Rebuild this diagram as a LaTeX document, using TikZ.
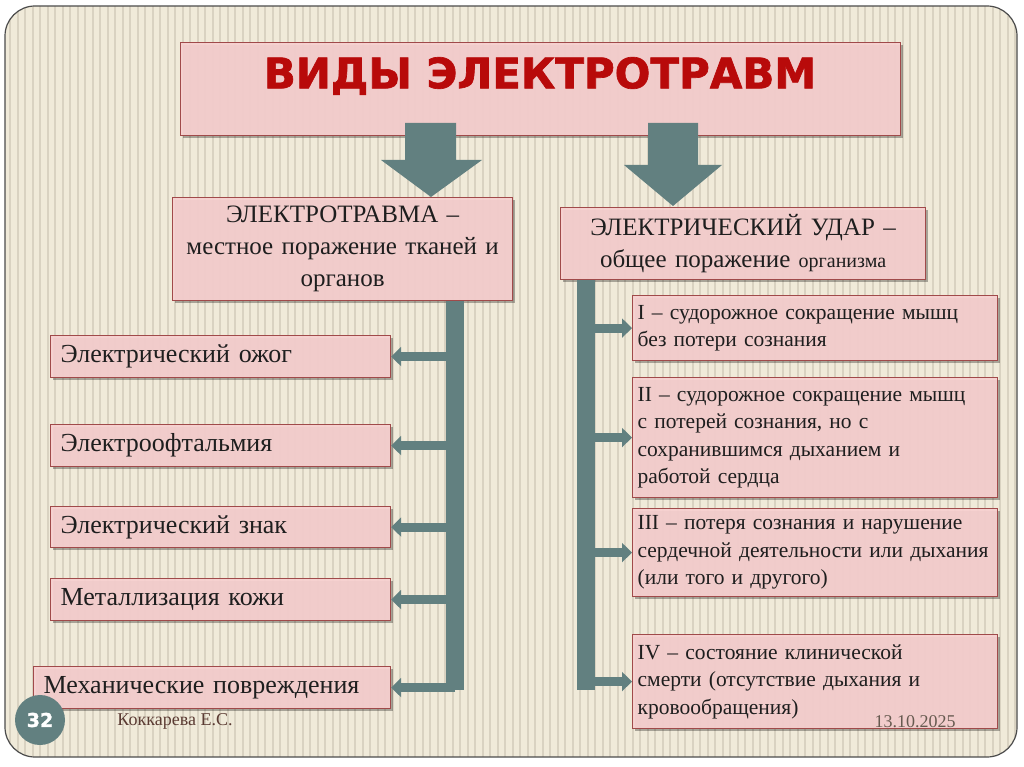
\documentclass[tikz,border=0pt]{standalone}
\usepackage{fontspec}
\setmainfont{Liberation Serif}
\newfontfamily\headfont{DejaVu Sans}[BoldFeatures={FakeBold=1.6}]
\usetikzlibrary{arrows.meta,shadows}

\definecolor{paper}{HTML}{F0EAD9}
\definecolor{stripe}{HTML}{D9D2C1}
\definecolor{pinkfill}{HTML}{F7D0D0}
\definecolor{pinkline}{HTML}{A04A4A}
\definecolor{slate}{HTML}{628080}
\definecolor{titlered}{HTML}{B80A0A}
\definecolor{inkblack}{HTML}{1E1E1E}
\definecolor{authorbrown}{HTML}{5B3B33}
\definecolor{dategray}{HTML}{675A50}

\tikzset{
  card/.style={draw=pinkline, line width=1.2pt, fill=pinkfill, fill opacity=0.93,
    text opacity=1, text=inkblack, inner xsep=10pt, inner ysep=0pt, anchor=north west,
    drop shadow={shadow xshift=2.5pt, shadow yshift=-2.5pt, opacity=0.3, fill=black}},
  leftcard/.style={card, font=\fontsize{26}{30}\selectfont, align=left},
  rightcard/.style={card, inner xsep=5pt, font=\fontsize{21.5}{27.5}\selectfont, align=left},
  headcard/.style={card, font=\fontsize{25}{32}\selectfont, align=center},
  bar/.style={slate, line width=18pt},
  branch/.style={slate, line width=9pt, -{Triangle[width=19pt,length=10pt]}},
}

\begin{document}
\begin{tikzpicture}[x=1pt,y=-1pt]
	\useasboundingbox (0,0) rectangle (1024,767);
	% slide background
	\fill[white] (0,0) rectangle (1024,767);
	\fill[paper,rounded corners=30pt] (5,6) rectangle (1017,757);
	\begin{scope}
		\clip[rounded corners=30pt] (5,6) rectangle (1017,757);
		\foreach \x in {9,16.5,...,1015}
			\fill[stripe] (\x,6) rectangle (\x+2,757);
	\end{scope}
	\draw[black!70,line width=1.2pt,rounded corners=30pt] (5,6) rectangle (1017,757);

	% title
	\node[card, minimum width=720pt, minimum height=93pt] (title) at (180,42) {};
	\node[font=\headfont\bfseries\fontsize{42}{42}\selectfont, text=titlered] (titletext) at (540,76) {ВИДЫ ЭЛЕКТРОТРАВМ};

	% two main branches
	\node[headcard, text width=320pt, minimum height=103pt] (ltrauma) at (172,197)
		{ЭЛЕКТРОТРАВМА –\\местное поражение тканей и\\органов};
	\node[headcard, text width=345pt, minimum height=72pt] (rshock) at (560,207)
		{ЭЛЕКТРИЧЕСКИЙ УДАР –\\общее поражение {\fontsize{20}{32}\selectfont организма}};

	\fill[slate] (405,123) -- (456,123) -- (456,160) -- (482,160) -- (431,197) -- (381,160) -- (405,160) -- cycle;
	\fill[slate] (648,123) -- (698,123) -- (698,165) -- (722,165) -- (673,206) -- (624,165) -- (648,165) -- cycle;

	% local injuries
	\node[leftcard, text width=320pt, minimum height=42pt] (burn) at (50,335) {Электрический ожог};
	\node[leftcard, text width=320pt, minimum height=42pt] (ophth) at (50,424) {Электроофтальмия};
	\node[leftcard, text width=320pt, minimum height=41pt] (mark) at (50,506) {Электрический знак};
	\node[leftcard, text width=320pt, minimum height=42pt] (metal) at (50,578) {Металлизация кожи};
	\node[leftcard, text width=337pt, minimum height=42pt] (mech) at (33,666) {Механические повреждения};

	% shock stages
	\node[rightcard, text width=355pt, minimum height=65pt] (st1) at (632,295)
		{I – судорожное сокращение мышц\\без потери сознания};
	\node[rightcard, text width=355pt, minimum height=120pt] (st2) at (632,377)
		{II – судорожное сокращение мышц\\с потерей сознания, но с\\сохранившимся дыханием и\\работой сердца};
	\node[rightcard, text width=355pt, minimum height=88pt] (st3) at (632,508)
		{III – потеря сознания и нарушение\\сердечной деятельности или дыхания\\(или того и другого)};
	\node[rightcard, text width=355pt, minimum height=94pt] (st4) at (632,634)
		{IV – состояние клинической\\смерти (отсутствие дыхания и\\кровообращения)};

	% connectors
	\coordinate (lbar) at (455,690);
	\coordinate (rbar) at (585.5,690);
	\draw[bar] (ltrauma.south -| lbar) -- (lbar);
	\draw[bar] (rshock.south -| rbar) -- (rbar);
	\foreach \b in {burn,ophth,mark,metal,mech}
		\draw[branch] (\b.east -| lbar) -- (\b.east);
	\foreach \b in {st1,st2,st3,st4}
		\draw[branch] (\b.west -| rbar) -- (\b.west);

	% footer
	\node[circle, fill=slate, minimum size=50pt, text=white, font=\headfont\bfseries\fontsize{19}{19}\selectfont] (pagenum) at (40,720) {32};
	\node[text=authorbrown, font=\fontsize{18}{18}\selectfont] (author) at (175,721) {Коккарева Е.С.};
	\node[text=dategray, font=\fontsize{18}{18}\selectfont] (date) at (915,722) {13.10.2025};
\end{tikzpicture}
\end{document}
